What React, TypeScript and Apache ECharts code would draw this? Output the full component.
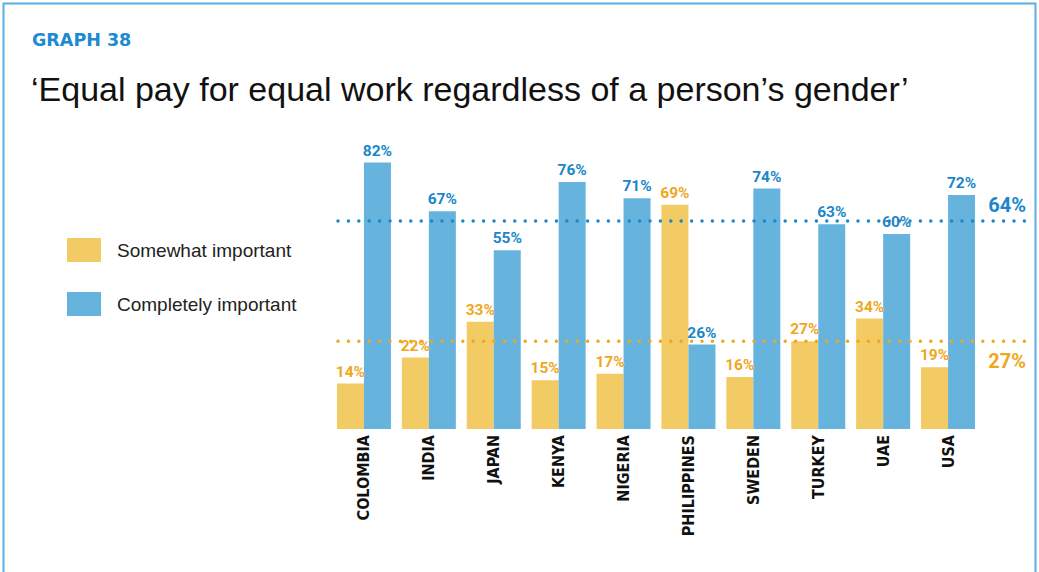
import React, { useEffect, useRef } from "react";
import * as echarts from "echarts";

const categories = ["COLOMBIA", "INDIA", "JAPAN", "KENYA", "NIGERIA", "PHILIPPINES", "SWEDEN", "TURKEY", "UAE", "USA"];
const somewhatImportant = [14, 22, 33, 15, 17, 69, 16, 27, 34, 19];
const completelyImportant = [82, 67, 55, 76, 71, 26, 74, 63, 60, 72];
const seriesNames = ["Somewhat important", "Completely important"];
const averageSomewhat = 27;
const averageCompletely = 64;
const graphLabel = "GRAPH 38";
const titleText = "‘Equal pay for equal work regardless of a person’s gender’";

const YELLOW = "#f2cb65";
const BLUE = "#66b3de";
const BLUE_TEXT = "#1b87c9";
const ORANGE_TEXT = "#efa71c";

export default function App() {
  const ref = useRef<HTMLDivElement>(null);
  useEffect(() => {
    if (!ref.current) return;
    const chart = echarts.init(ref.current, null, { renderer: "svg" });
    const labelStyle = (color: string) => ({
      show: true,
      position: "top",
      distance: 4,
      formatter: "{c}%",
      color,
      fontFamily: "Roboto, 'Liberation Sans', sans-serif",
      fontWeight: "bold",
      fontSize: 15.5,
    });
    chart.setOption({
      animation: false,
      backgroundColor: "#ffffff",
      legend: {
        data: seriesNames,
        orient: "vertical",
        left: 67,
        top: 238,
        padding: 0,
        itemWidth: 34,
        itemHeight: 24,
        itemGap: 30,
        icon: "rect",
        selectedMode: false,
        textStyle: {
          fontFamily: "'Liberation Sans', sans-serif",
          fontSize: 19,
          color: "#222",
          padding: [3, 0, 0, 11],
        },
      },
      grid: { left: 331.5, top: 104, width: 649, height: 325 },
      xAxis: {
        type: "category",
        data: categories,
        axisLine: { show: false },
        axisTick: { show: false },
        axisLabel: {
          rotate: 90,
          margin: 6,
          color: "#111",
          fontFamily: "'DejaVu Sans Condensed', 'DejaVu Sans', sans-serif",
          fontWeight: "bold",
          fontSize: 16,
        },
      },
      yAxis: { type: "value", min: 0, max: 100, show: false },
      series: [
        {
          name: seriesNames[0],
          type: "bar",
          data: somewhatImportant,
          barWidth: 27,
          barGap: "0%",
          itemStyle: { color: YELLOW },
          label: labelStyle(ORANGE_TEXT),
        },
        {
          name: seriesNames[1],
          type: "bar",
          data: completelyImportant,
          barWidth: 27,
          barGap: "0%",
          itemStyle: { color: BLUE },
          label: labelStyle(BLUE_TEXT),
        },
      ],
    });
    const yC = chart.convertToPixel({ yAxisIndex: 0 }, averageCompletely) as number;
    const yS = chart.convertToPixel({ yAxisIndex: 0 }, averageSomewhat) as number;
    const lineStart = 338;
    const lineEnd = 1025;
    const dotted = (color: string) => ({
      stroke: color,
      lineWidth: 3.5,
      lineDash: [0, 10.4],
      lineCap: "round",
    });
    chart.setOption({
      graphic: [
        {
          type: "rect",
          shape: { x: 3.5, y: 3.5, width: 1032, height: 620 },
          style: { fill: "none", stroke: "#5aaee0", lineWidth: 2 },
          silent: true,
        },
        {
          type: "text",
          x: 32,
          y: 40,
          style: {
            text: graphLabel,
            fill: "#1b8ad0",
            font: "bold 17.5px 'DejaVu Sans', sans-serif",
            verticalAlign: "middle",
          },
        },
        {
          type: "text",
          x: 31,
          y: 89,
          style: {
            text: titleText,
            fill: "#111",
            font: "normal 34px 'Liberation Sans', sans-serif",
            verticalAlign: "middle",
          },
        },
        {
          type: "line",
          shape: { x1: lineStart, y1: yC, x2: lineEnd, y2: yC },
          style: dotted(BLUE_TEXT),
          z: 10,
        },
        {
          type: "line",
          shape: { x1: lineStart, y1: yS, x2: lineEnd, y2: yS },
          style: dotted(ORANGE_TEXT),
          z: 10,
        },
        {
          type: "text",
          x: 1026,
          y: yC - 16,
          style: {
            text: averageCompletely + "%",
            fill: BLUE_TEXT,
            font: "bold 20px Roboto, 'Liberation Sans', sans-serif",
            align: "right",
            verticalAlign: "middle",
          },
        },
        {
          type: "text",
          x: 1026,
          y: yS + 20,
          style: {
            text: averageSomewhat + "%",
            fill: ORANGE_TEXT,
            font: "bold 20px Roboto, 'Liberation Sans', sans-serif",
            align: "right",
            verticalAlign: "middle",
          },
        },
      ],
    });
    return () => chart.dispose();
  }, []);
  return (
    <div
      ref={ref}
      style={{ position: "fixed", left: 0, top: 0, width: 1039, height: 572 }}
    />
  );
}
